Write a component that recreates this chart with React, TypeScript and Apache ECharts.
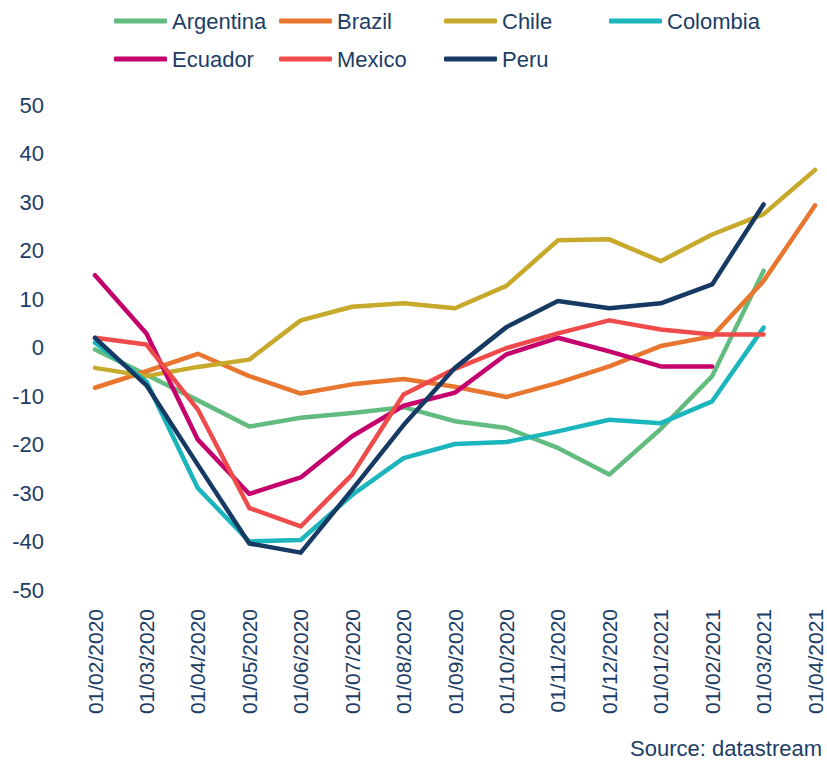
import React, { useEffect, useRef } from "react";
import * as echarts from "echarts";

const categories = [
  "01/02/2020", "01/03/2020", "01/04/2020", "01/05/2020", "01/06/2020",
  "01/07/2020", "01/08/2020", "01/09/2020", "01/10/2020", "01/11/2020",
  "01/12/2020", "01/01/2021", "01/02/2021", "01/03/2021", "01/04/2021",
];

const argentina = [-0.4, -5.6, -10.9, -16.3, -14.5, -13.5, -12.3, -15.2, -16.6, -20.7, -26.2, -16.8, -5.9, 15.8];
const brazil = [-8.3, -4.9, -1.3, -5.9, -9.5, -7.6, -6.5, -8.1, -10.2, -7.3, -3.9, 0.3, 2.3, 13.7, 29.3];
const chile = [-4.2, -5.9, -4.0, -2.5, 5.6, 8.4, 9.1, 8.1, 12.7, 22.1, 22.3, 17.8, 23.3, 27.5, 36.6];
const colombia = [1.0, -7.0, -29.0, -40.0, -39.7, -30.4, -22.8, -19.9, -19.5, -17.3, -14.9, -15.6, -11.1, 4.1];
const ecuador = [14.9, 2.9, -19.0, -30.2, -26.8, -18.3, -12.0, -9.3, -1.4, 2.0, -0.8, -3.9, -3.9];
const mexico = [2.0, 0.6, -12.8, -33.1, -36.9, -26.2, -9.7, -4.4, -0.1, 2.9, 5.6, 3.7, 2.7, 2.7];
const peru = [2.0, -7.8, -24.2, -40.4, -42.3, -29.3, -16.0, -4.2, 4.2, 9.6, 8.1, 9.1, 13.0, 29.5];

const seriesNames = ["Argentina", "Brazil", "Chile", "Colombia", "Ecuador", "Mexico", "Peru"];
const seriesData = [argentina, brazil, chile, colombia, ecuador, mexico, peru];
const seriesColors = ["#62bb7f", "#e8762f", "#c7a92b", "#1bb5bd", "#c5006c", "#f04b4b", "#163a63"];

const yTicks = { min: -50, max: 50, interval: 10 };
const sourceText = "Source: datastream";

const TEXT = "#1d3d66";
const FONT = "'Liberation Sans', Arial, Helvetica, sans-serif";

export default function App() {
  const ref = useRef<HTMLDivElement>(null);

  useEffect(() => {
    if (!ref.current) return;
    const chart = echarts.init(ref.current, undefined, { renderer: "svg" });

    const colLeft = [114, 279, 444, 609];
    const rowTop = [10, 48];
    const legends = seriesNames.map((name, i) => ({
      data: [name],
      left: colLeft[i % 4],
      top: rowTop[Math.floor(i / 4)],
      padding: 0,
      icon: "roundRect",
      itemWidth: 53,
      itemHeight: 5,
      selectedMode: false,
      textStyle: { color: TEXT, fontSize: 22, fontFamily: FONT },
    }));

    chart.setOption({
      animation: false,
      backgroundColor: "#ffffff",
      legend: legends,
      grid: { left: 95, right: 12, top: 105, bottom: 170, containLabel: false },
      xAxis: {
        type: "category",
        data: categories,
        boundaryGap: false,
        axisLine: { show: false },
        axisTick: { show: false },
        splitLine: { show: false },
        axisLabel: {
          interval: 0,
          rotate: 90,
          margin: 19,
          color: TEXT,
          fontSize: 21,
          fontFamily: FONT,
        },
      },
      yAxis: {
        type: "value",
        min: yTicks.min,
        max: yTicks.max,
        interval: yTicks.interval,
        axisLine: { show: false },
        axisTick: { show: false },
        splitLine: { show: false },
        axisLabel: {
          margin: 51,
          color: TEXT,
          fontSize: 22,
          fontFamily: FONT,
        },
      },
      series: seriesNames.map((name, i) => ({
        name,
        type: "line",
        data: seriesData[i],
        symbol: "none",
        showSymbol: false,
        color: seriesColors[i],
        itemStyle: { color: seriesColors[i] },
        lineStyle: { width: 4.5, color: seriesColors[i], cap: "round", join: "round" },
        emphasis: { disabled: true },
      })),
      graphic: [
        {
          type: "text",
          right: 5,
          top: 737,
          style: {
            text: sourceText,
            fill: TEXT,
            fontSize: 22,
            fontFamily: FONT,
          },
        },
      ],
    });

    return () => chart.dispose();
  }, []);

  return (
    <div
      ref={ref}
      style={{ position: "fixed", left: 0, top: 0, width: 827, height: 760, background: "#fff" }}
    />
  );
}
